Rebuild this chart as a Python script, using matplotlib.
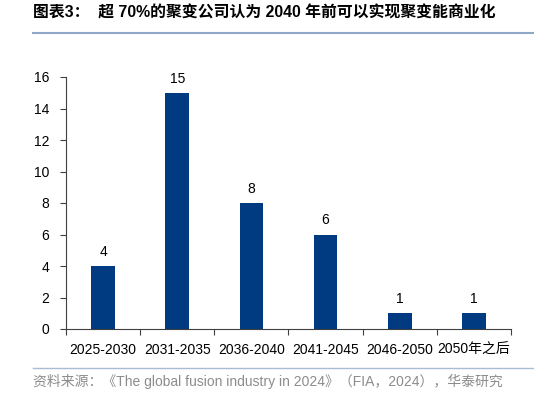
import matplotlib
matplotlib.use("Agg")
import matplotlib.pyplot as plt
from matplotlib.lines import Line2D

plt.rcParams['font.family'] = ['Liberation Sans', 'Noto Sans CJK SC', 'DejaVu Sans']

categories = ["2025-2030", "2031-2035", "2036-2040", "2041-2045", "2046-2050", "2050年之后"]
values = [4, 15, 8, 6, 1, 1]
yticks = [0, 2, 4, 6, 8, 10, 12, 14, 16]

title = "图表3：  超 70%的聚变公司认为 2040 年前可以实现聚变能商业化"
source = "资料来源：《The global fusion industry in 2024》（FIA，2024），华泰研究"

W, H = 534, 393
fig = plt.figure(figsize=(W/100, H/100), dpi=100)
ax = fig.add_axes([66/W, 1-329/H, 445/W, (329-77)/H])

x = list(range(len(categories)))
bars = ax.bar(x, values, width=0.32, color="#003A80", zorder=2)
for xi, v in zip(x, values):
    ax.text(xi, v + 0.45, str(v), ha="center", va="bottom", fontsize=10, color="black")

ax.set_xlim(-0.5, len(categories) - 0.5)
ax.set_ylim(0, 16)
ax.set_yticks(yticks)
ax.set_yticklabels([str(t) for t in yticks], fontsize=10)
ax.set_xticks([i - 0.5 for i in range(len(categories) + 1)], minor=False)
ax.set_xticklabels([])
ax.set_xticks(x, minor=True)
ax.set_xticklabels(categories, minor=True, fontsize=10)
ax.tick_params(axis="x", which="minor", length=0, pad=10)
ax.tick_params(axis="x", which="major", length=4, direction="out", color="#404040")
ax.tick_params(axis="y", length=4, direction="out", color="#404040", pad=8)
for s in ["top", "right"]:
    ax.spines[s].set_visible(False)
ax.spines["left"].set_color("#404040")
ax.spines["bottom"].set_color("#404040")

fig.text(33/W, 1-13/H, title, fontsize=11.4, fontweight="bold", va="center", ha="left",
         family=['Liberation Sans', 'Noto Sans CJK SC'])
fig.add_artist(Line2D([33/W, 1], [1-33/H, 1-33/H], color="#8FA8C8", lw=1.5))
fig.add_artist(Line2D([33/W, 1], [1-368/H, 1-368/H], color="#A8BCD6", lw=1.0))
fig.text(33/W, 1-381/H, source, fontsize=10, color="#8C8C8C", va="center", ha="left",
         family=['Liberation Sans', 'Noto Sans CJK SC'])

fig.savefig("out.png", dpi=100)
